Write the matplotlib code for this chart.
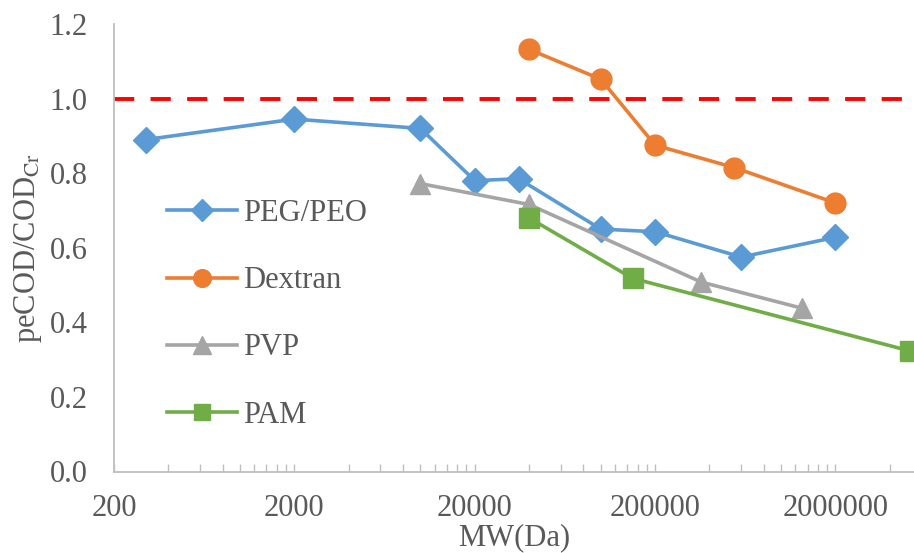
import matplotlib

matplotlib.use("Agg")
import matplotlib.pyplot as plt
from matplotlib.ticker import FixedLocator, NullFormatter

plt.rcParams["font.family"] = ["Liberation Serif", "DejaVu Serif"]
plt.rcParams["mathtext.fontset"] = "stix"

# molecular weight (Da) and peCOD/COD_Cr ratio for each polymer
peg_mw = [300, 2000, 10000, 20000, 35000, 100000, 200000, 600000, 2000000]
peg_ratio = [0.89, 0.945, 0.92, 0.78, 0.785, 0.65, 0.643, 0.575, 0.628]

dextran_mw = [40000, 100000, 200000, 550000, 2000000]
dextran_ratio = [1.132, 1.052, 0.875, 0.815, 0.72]

pvp_mw = [10000, 40000, 360000, 1300000]
pvp_ratio = [0.772, 0.716, 0.508, 0.438]

pam_mw = [40000, 150000, 5200000]
pam_ratio = [0.68, 0.518, 0.323]

x_ticks = [200, 2000, 20000, 200000, 2000000]
y_ticks = [0.0, 0.2, 0.4, 0.6, 0.8, 1.0, 1.2]

TEXT = "#595959"
AXIS = "#BFBFBF"
FS = 22

fig = plt.figure(figsize=(9.14, 5.53), dpi=100)
ax = fig.add_axes([114 / 914, (553 - 471.5) / 553, 1 - 114 / 914, (471.5 - 24) / 553])

ax.axhline(1.0, color="#FF0000", lw=2.8, dashes=(5.2, 4.2), zorder=1)

lw = 2.6
ax.plot(peg_mw, peg_ratio, color="#5B9BD5", lw=lw, marker="D", ms=13, label="PEG/PEO")
ax.plot(dextran_mw, dextran_ratio, color="#ED7D31", lw=lw, marker="o", ms=15, label="Dextran")
ax.plot(pvp_mw, pvp_ratio, color="#A5A5A5", lw=lw, marker="^", ms=14.5, label="PVP")
ax.plot(pam_mw, pam_ratio, color="#70AD47", lw=lw, marker="s", ms=14, label="PAM", clip_on=False)

ax.set_xscale("log")
ax.set_xlim(200, 5.45e6)
ax.set_ylim(0, 1.2)

ax.xaxis.set_major_locator(FixedLocator(x_ticks))
ax.set_xticklabels([str(t) for t in x_ticks])
minor = [d * k for d in x_ticks for k in range(2, 10)]
ax.xaxis.set_minor_locator(FixedLocator(minor))
ax.xaxis.set_minor_formatter(NullFormatter())
ax.set_yticks(y_ticks)
ax.set_yticklabels([f"{t:.1f}" for t in y_ticks])

ax.tick_params(axis="x", which="both", direction="in", length=6, width=1, color=AXIS,
               labelsize=FS, labelcolor=TEXT, pad=16)
ax.tick_params(axis="y", length=0, labelsize=FS, labelcolor=TEXT, pad=19)

for side in ["top", "right"]:
    ax.spines[side].set_visible(False)
for side in ["left", "bottom"]:
    ax.spines[side].set_color(AXIS)
    ax.spines[side].set_linewidth(1.3)

ax.set_xlabel("MW(Da)", fontsize=FS, color=TEXT, labelpad=0)
ax.set_ylabel(r"peCOD/COD$_{\mathrm{Cr}}$", fontsize=FS, color=TEXT, labelpad=4)

handles, labels = ax.get_legend_handles_labels()
leg = ax.legend(handles, labels, loc="upper left", bbox_to_anchor=(167 / 914, 1 - 199 / 553),
                bbox_transform=fig.transFigure, frameon=False, fontsize=FS,
                borderpad=0, borderaxespad=0, handlelength=2.3, handletextpad=0.18,
                labelspacing=1.25, markerscale=0.85)
for text in leg.get_texts():
    text.set_color(TEXT)

fig.savefig("out.png", dpi=100)
